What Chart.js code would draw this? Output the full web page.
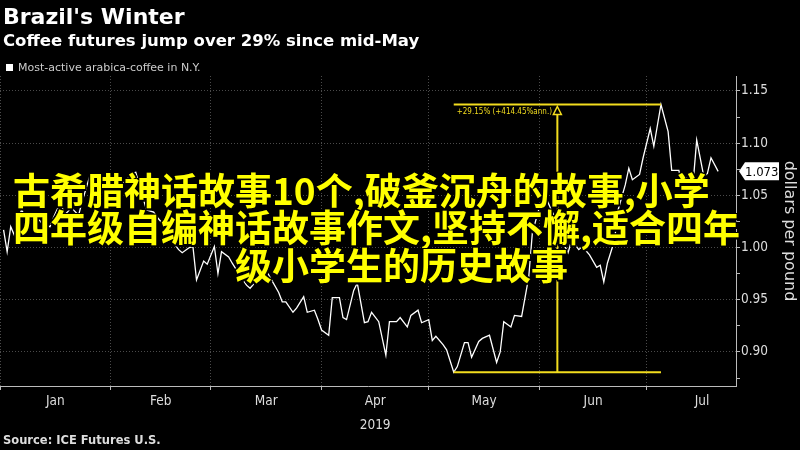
<!DOCTYPE html>
<html>
<head>
<meta charset="utf-8">
<script src="https://cdn.jsdelivr.net/npm/chart.js@4.4.0/dist/chart.umd.min.js"></script>
<style>
  html, body { margin: 0; padding: 0; background: #000; }
  #wrap { position: relative; width: 800px; height: 450px; background: #000; overflow: hidden; }
  #chart { position: absolute; left: 0; top: 0; }
  .txt { position: absolute; white-space: nowrap; line-height: 1; font-family: "DejaVu Sans", sans-serif; }
  #title { left: 3px; top: 6px; font-size: 22px; font-weight: bold; color: #fff; }
  #subtitle { left: 3px; top: 33px; font-size: 16.5px; font-weight: bold; color: #fff; }
  #legend { left: 18px; top: 62px; font-size: 11px; color: #ccc; }
  #legendBox { position: absolute; left: 6px; top: 64px; width: 7px; height: 7px; background: #fff; }
  #source { left: 3px; top: 435px; font-size: 11.5px; font-weight: bold; color: #ddd; }
  .over { position: absolute; white-space: nowrap; font-family: "Noto Sans CJK SC", sans-serif;
          font-weight: bold; font-size: 37px; line-height: 37px; color: #ffff00;
          text-shadow: -1.5px -1.5px 0 #000, 1.5px -1.5px 0 #000, -1.5px 1.5px 0 #000, 1.5px 1.5px 0 #000,
                       0 -1.5px 0 #000, 0 1.5px 0 #000, -1.5px 0 0 #000, 1.5px 0 0 #000; }
</style>
</head>
<body>
<div id="wrap">
  <canvas id="chart" width="800" height="450"></canvas>
  <div id="title" class="txt">Brazil's Winter</div>
  <div id="subtitle" class="txt">Coffee futures jump over 29% since mid-May</div>
  <div id="legendBox"></div>
  <div id="legend" class="txt">Most-active arabica-coffee in N.Y.</div>
  <div id="source" class="txt">Source: ICE Futures U.S.</div>
  <div class="over" style="left:13px; top:171px;">古希腊神话故事10个,破釜沉舟的故事,小学</div>
  <div class="over" style="left:13px; top:208px;">四年级自编神话故事作文,坚持不懈,适合四年</div>
  <div class="over" style="left:235px; top:246px;">级小学生的历史故事</div>
</div>
<script>
'use strict';

// дни с 1 января 2019 и цена ближайшего фьючерса (долл. за фунт)
const dayOfYear = [
    1, 2, 3, 4, 6, 8, 10, 12, 14, 15,
    17, 18, 20, 22, 23, 25, 26, 28, 29, 31,
    32, 34, 36, 37, 38, 40, 41, 43, 44, 45,
    47, 48, 50, 51, 53, 54, 55, 57, 58, 60,
    61, 62, 64, 65, 67, 69, 70, 72, 74, 75,
    76, 78, 79, 80, 82, 83, 85, 86, 88, 89,
    90, 92, 93, 95, 96, 97, 99, 100, 102, 103,
    104, 106, 108, 109, 111, 112, 114, 115, 117, 118,
    120, 121, 122, 124, 125, 127, 128, 130, 131, 132,
    134, 135, 137, 139, 140, 141, 143, 144, 146, 148,
    149, 151, 152, 153, 155, 156, 158, 159, 160, 162,
    163, 165, 167, 168, 169, 170, 172, 173, 175, 176,
    177, 179, 180, 182, 183, 185, 187, 188, 190, 191,
    192, 194, 195, 197, 198, 199, 201,
];
const prices = [
    1.017, 0.996, 1.020, 1.012, 1.036, 1.025, 1.031, 1.022, 1.020, 1.029,
    1.044, 1.031, 1.038, 1.031, 1.044, 1.067, 1.055, 1.048, 1.055, 1.060,
    1.046, 1.060, 1.067, 1.071, 1.072, 1.048, 1.036, 1.034, 1.029, 1.025,
    1.020, 1.007, 0.998, 0.995, 1.000, 1.001, 0.969, 0.987, 0.984, 1.001,
    0.975, 0.996, 0.991, 0.985, 0.974, 0.964, 0.961, 0.969, 0.979, 0.975,
    0.969, 0.957, 0.948, 0.948, 0.938, 0.942, 0.953, 0.938, 0.940, 0.931,
    0.921, 0.916, 0.952, 0.952, 0.933, 0.931, 0.959, 0.966, 0.928, 0.929,
    0.938, 0.929, 0.897, 0.929, 0.929, 0.933, 0.924, 0.935, 0.940, 0.928,
    0.931, 0.911, 0.915, 0.907, 0.902, 0.8805, 0.886, 0.909, 0.909, 0.895,
    0.910, 0.913, 0.916, 0.890, 0.900, 0.929, 0.924, 0.935, 0.934, 0.972,
    1.014, 1.039, 1.048, 1.046, 1.031, 1.012, 1.002, 0.995, 1.007, 0.998,
    1.001, 0.993, 0.981, 0.983, 0.967, 0.985, 1.007, 1.036, 1.060, 1.076,
    1.065, 1.070, 1.086, 1.114, 1.097, 1.137, 1.111, 1.074, 1.074, 1.059,
    1.067, 1.062, 1.103, 1.068, 1.071, 1.086, 1.073,
];

// ось времени: начала месяцев (сетка) и середины (подписи)
const monthStarts = [0, 31, 59, 90, 120, 151, 181];
const monthMids = [15.5, 45, 74.5, 105, 135.5, 166, 196.5];
const monthLabels = ['Jan', 'Feb', 'Mar', 'Apr', 'May', 'Jun', 'Jul'];
const yearLabel = '2019';
const yearUnder = 'Apr';

// ось цены
const priceMajor = [0.90, 0.95, 1.00, 1.05, 1.10, 1.15];
const priceMinor = [0.875, 0.925, 0.975, 1.025, 1.075, 1.125];

// аннотация роста от минимума до максимума
const lowDay = 127;
const highDay = 185;
const lowPrice = 0.8805;
const highPrice = 1.137;
const changeLabel = '+29.15% (+414.45%ann.)';

const YELLOW = '#f2dc1e';
const GRID = '#4a4a4a';
const AXIS = '#bbbbbb';
const LABEL = '#dddddd';

function isIn(list, v) {
    return list.some((x) => Math.abs(x - v) < 1e-9);
}

const rangePlugin = {
    id: 'rangeAnnotation',
    afterDatasetsDraw(chart) {
        const { ctx, scales: { x, y } } = chart;
        const x0 = x.getPixelForValue(lowDay);
        const x1 = x.getPixelForValue(highDay);
        const xm = x.getPixelForValue((lowDay + highDay) / 2);
        const yl = y.getPixelForValue(lowPrice);
        const yh = y.getPixelForValue(highPrice);
        ctx.save();
        ctx.strokeStyle = YELLOW;
        ctx.lineWidth = 2;
        ctx.beginPath();
        ctx.moveTo(x0, yh); ctx.lineTo(x1, yh);
        ctx.moveTo(x0, yl); ctx.lineTo(x1, yl);
        ctx.moveTo(xm, yl); ctx.lineTo(xm, yh + 10);
        ctx.stroke();
        // полая стрелка вверх
        ctx.lineWidth = 1.5;
        ctx.fillStyle = '#000';
        ctx.beginPath();
        ctx.moveTo(xm, yh + 2);
        ctx.lineTo(xm + 4, yh + 10);
        ctx.lineTo(xm - 4, yh + 10);
        ctx.closePath();
        ctx.fill();
        ctx.stroke();
        ctx.fillStyle = YELLOW;
        ctx.font = '8px "DejaVu Sans Condensed"';
        ctx.textBaseline = 'middle';
        ctx.fillText(changeLabel, x0 + 3, yh + 7);
        ctx.restore();
    },
};

const lastValuePlugin = {
    id: 'lastValue',
    afterDraw(chart) {
        const { ctx, chartArea, scales: { y } } = chart;
        const v = prices[prices.length - 1];
        const py = y.getPixelForValue(v);
        const left = chartArea.right + 3;
        ctx.save();
        ctx.fillStyle = '#fff';
        ctx.beginPath();
        ctx.moveTo(left, py);
        ctx.lineTo(left + 6, py - 9);
        ctx.lineTo(left + 40, py - 9);
        ctx.lineTo(left + 40, py + 9);
        ctx.lineTo(left + 6, py + 9);
        ctx.closePath();
        ctx.fill();
        ctx.fillStyle = '#000';
        ctx.font = '13px "DejaVu Sans Condensed"';
        ctx.textBaseline = 'middle';
        ctx.fillText(v.toFixed(3), left + 6, py + 1);
        ctx.restore();
    },
};

const ctx = document.getElementById('chart').getContext('2d');
new Chart(ctx, {
    type: 'line',
    data: {
        datasets: [
            {
                data: dayOfYear.map((d, i) => ({ x: d, y: prices[i] })),
                borderColor: '#ffffff',
                borderWidth: 1.3,
                pointRadius: 0,
                tension: 0,
            },
        ],
    },
    options: {
        responsive: false,
        animation: false,
        devicePixelRatio: 1,
        layout: { padding: { top: 76, left: 0, right: 0, bottom: 0 } },
        plugins: { legend: { display: false }, tooltip: { enabled: false } },
        scales: {
            x: {
                type: 'linear',
                min: 0,
                max: 206,
                afterBuildTicks(s) {
                    s.ticks = monthStarts.concat(monthMids)
                        .sort((a, b) => a - b)
                        .map((v) => ({ value: v }));
                },
                afterFit(s) { s.height = 64; },
                ticks: {
                    autoSkip: false,
                    maxRotation: 0,
                    padding: 0,
                    color: LABEL,
                    font: { family: 'DejaVu Sans Condensed', size: 13.5, lineHeight: 1.75 },
                    callback(v) {
                        const i = monthMids.indexOf(v);
                        if (i < 0) return '';
                        return monthLabels[i] === yearUnder ? [monthLabels[i], yearLabel] : monthLabels[i];
                    },
                },
                grid: {
                    color: (c) => (c.tick && isIn(monthStarts, c.tick.value) ? GRID : 'transparent'),
                    tickColor: (c) => (c.tick && isIn(monthStarts, c.tick.value) ? AXIS : 'transparent'),
                    tickLength: 4,
                },
                border: { color: AXIS, dash: [1, 2] },
            },
            y: {
                position: 'right',
                min: 0.8674,
                max: 1.1643,
                afterBuildTicks(s) {
                    s.ticks = priceMajor.concat(priceMinor)
                        .sort((a, b) => a - b)
                        .map((v) => ({ value: v }));
                },
                afterFit(s) { s.width = 64; },
                ticks: {
                    padding: 1,
                    color: LABEL,
                    font: { family: 'DejaVu Sans Condensed', size: 13.5 },
                    callback: (v) => (isIn(priceMajor, v) ? v.toFixed(2) : ''),
                },
                grid: {
                    color: (c) => (c.tick && isIn(priceMajor, c.tick.value) ? GRID : 'transparent'),
                    tickColor: AXIS,
                    tickLength: 4,
                },
                border: { color: AXIS, dash: [1, 2] },
                title: {
                    display: true,
                    text: 'dollars per pound',
                    color: LABEL,
                    font: { family: 'DejaVu Sans', size: 16 },
                    padding: { top: 1, bottom: 0 },
                },
            },
        },
    },
    plugins: [rangePlugin, lastValuePlugin],
});
</script>
</body>
</html>
